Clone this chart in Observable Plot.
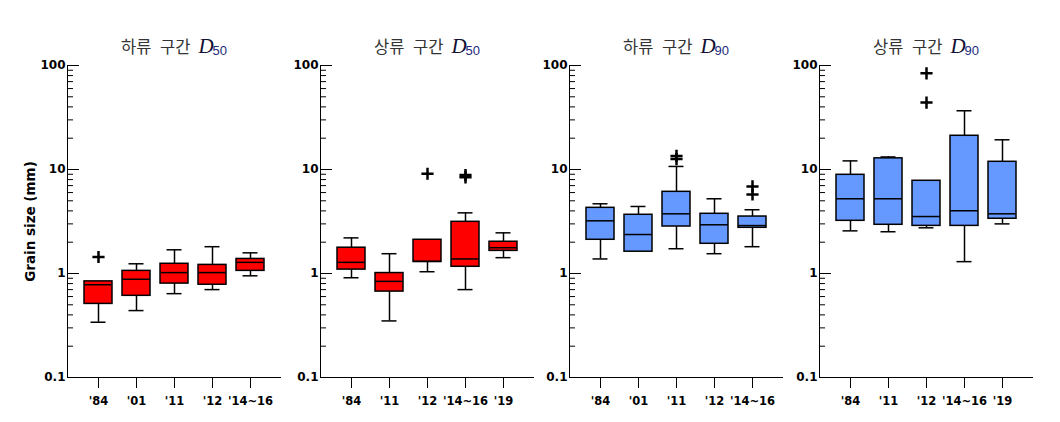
<!DOCTYPE html>
<html>
<head>
<meta charset="utf-8">
<script src="https://cdn.jsdelivr.net/npm/d3@7"></script>
<script src="https://cdn.jsdelivr.net/npm/@observablehq/plot@0.6"></script>
<style>
  html, body { margin: 0; padding: 0; background: #fff; }
  #root { position: relative; width: 1060px; height: 422px; font-family: "DejaVu Sans", sans-serif; }
  .panel { position: absolute; top: 0; height: 422px; }
  .title { position: absolute; top: 34px; height: 26px; text-align: center; white-space: nowrap; color: #333; }
  .title .ko { font-family: "Noto Sans CJK KR", sans-serif; font-size: 16.5px; font-weight: 400; word-spacing: 5px; }
  .title .D { font-family: "Liberation Serif", serif; font-style: italic; font-size: 21px; color: #111133; margin-left: 8px; }
  .title .sub { font-family: "Liberation Sans", sans-serif; font-size: 13px; color: #1c2a7a; position: relative; top: 2px; margin-left: -1px; }
  .panel > svg { position: absolute; top: 55px; overflow: visible; max-width: none !important; }
</style>
</head>
<body>
<div id="root"></div>
<script>
// ---- data ----
const catsDown = ["'84", "'01", "'11", "'12", "'14~16"];
const catsUp = ["'84", "'11", "'12", "'14~16", "'19"];

// 하류 구간 D50
const down50Min = [0.34, 0.44, 0.64, 0.70, 0.95];
const down50Q1  = [0.51, 0.61, 0.80, 0.78, 1.06];
const down50Med = [0.78, 0.88, 1.02, 1.02, 1.28];
const down50Q3  = [0.84, 1.06, 1.24, 1.21, 1.38];
const down50Max = [0.84, 1.24, 1.69, 1.81, 1.58];
const down50OutCat = ["'84"];
const down50OutVal = [1.44];

// 상류 구간 D50
const up50Min = [0.91, 0.35, 1.04, 0.70, 1.42];
const up50Q1  = [1.09, 0.67, 1.29, 1.16, 1.65];
const up50Med = [1.28, 0.84, 1.31, 1.38, 1.77];
const up50Q3  = [1.77, 1.01, 2.11, 3.14, 2.02];
const up50Max = [2.20, 1.55, 2.11, 3.83, 2.46];
const up50OutCat = ["'12", "'14~16", "'14~16"];
const up50OutVal = [9.1, 8.85, 8.4];

// 하류 구간 D90
const down90Min = [1.38, 1.62, 1.73, 1.55, 1.81];
const down90Q1  = [2.11, 1.62, 2.83, 1.93, 2.75];
const down90Med = [3.21, 2.37, 3.75, 2.94, 2.89];
const down90Q3  = [4.28, 3.67, 6.10, 3.75, 3.53];
const down90Max = [4.68, 4.41, 10.7, 5.23, 4.10];
const down90OutCat = ["'11", "'11", "'14~16", "'14~16"];
const down90OutVal = [13.5, 12.6, 6.87, 5.75];

// 상류 구간 D90
const up90Min = [2.57, 2.52, 2.75, 1.30, 3.00];
const up90Q1  = [3.21, 2.94, 2.87, 2.87, 3.36];
const up90Med = [5.23, 5.23, 3.53, 4.01, 3.75];
const up90Q3  = [8.89, 12.8, 7.79, 21.1, 11.86];
const up90Max = [12.1, 13.2, 7.79, 36.7, 19.3];
const up90OutCat = ["'12", "'12"];
const up90OutVal = [84, 44];

const majorTicks = [0.1, 1, 10, 100];
const minorTicks = [0.2,0.3,0.4,0.5,0.6,0.7,0.8,0.9, 2,3,4,5,6,7,8,9, 20,30,40,50,60,70,80,90];

const panels = [
  {title: "하류 구간", sub: "50", cats: catsDown, min: down50Min, q1: down50Q1, med: down50Med, q3: down50Q3, max: down50Max, oc: down50OutCat, ov: down50OutVal, fill: "#ff0000", axisX: 67, ylabel: true},
  {title: "상류 구간", sub: "50", cats: catsUp, min: up50Min, q1: up50Q1, med: up50Med, q3: up50Q3, max: up50Max, oc: up50OutCat, ov: up50OutVal, fill: "#ff0000", axisX: 320},
  {title: "하류 구간", sub: "90", cats: catsDown, min: down90Min, q1: down90Q1, med: down90Med, q3: down90Q3, max: down90Max, oc: down90OutCat, ov: down90OutVal, fill: "#6699ff", axisX: 569},
  {title: "상류 구간", sub: "90", cats: catsUp, min: up90Min, q1: up90Q1, med: up90Med, q3: up90Q3, max: up90Max, oc: up90OutCat, ov: up90OutVal, fill: "#6699ff", axisX: 819}
];

const root = document.getElementById("root");
const frameW = 214;

panels.forEach(p => {
  const rows = p.cats.map((c, i) => ({cat: c, min: p.min[i], q1: p.q1[i], med: p.med[i], q3: p.q3[i], max: p.max[i]}));
  const outs = p.oc.map((c, i) => ({cat: c, v: p.ov[i]}));
  const ml = p.ylabel ? 67 : 45;
  const mr = 4;
  const W = ml + frameW + mr;
  const marks = [
    Plot.ruleY([0.1]),
    Plot.frame({anchor: "left"}),
    Plot.axisY({ticks: minorTicks, tickSize: -6, tickFormat: () => "", label: null}),
    Plot.axisY({ticks: majorTicks, tickSize: -12, tickPadding: 14, tickFormat: d => String(d), label: null,
                fontSize: 12, fontWeight: "bold", fontFamily: "DejaVu Sans"}),
    Plot.axisX({tickSize: 11, tickPadding: 8, fontSize: 11.5, fontWeight: "bold", fontFamily: "DejaVu Sans", label: null}),
    Plot.ruleX(rows.filter(d => d.max > d.q3), {x: "cat", y1: "q3", y2: "max", stroke: "black", strokeWidth: 1.5}),
    Plot.ruleX(rows.filter(d => d.min < d.q1), {x: "cat", y1: "min", y2: "q1", stroke: "black", strokeWidth: 1.5}),
    Plot.tickY(rows.filter(d => d.max > d.q3), {x: "cat", y: "max", insetLeft: 6.5, insetRight: 6.5, stroke: "black", strokeWidth: 1.5}),
    Plot.tickY(rows.filter(d => d.min < d.q1), {x: "cat", y: "min", insetLeft: 6.5, insetRight: 6.5, stroke: "black", strokeWidth: 1.5}),
    Plot.barY(rows, {x: "cat", y1: "q1", y2: "q3", fill: p.fill, stroke: "black", strokeWidth: 1.5}),
    Plot.tickY(rows, {x: "cat", y: "med", stroke: "black", strokeWidth: 1.5}),
    Plot.dot(outs, {x: "cat", y: "v", symbol: "plus", r: 4, stroke: "black", strokeWidth: 2.5})
  ];
  if (p.ylabel) {
    marks.push(Plot.text(["Grain size (mm)"], {frameAnchor: "left", textAnchor: "middle", rotate: -90, dx: -37,
      fontSize: 13.5, fontWeight: "bold", fontFamily: "DejaVu Sans", fill: "black"}));
  }
  const svg = Plot.plot({
    width: W,
    height: 367,
    marginLeft: ml,
    marginRight: mr,
    marginTop: 10,
    marginBottom: 45,
    style: {background: "transparent", color: "black", overflow: "visible", maxWidth: "none"},
    x: {type: "band", domain: p.cats, paddingInner: 0.27, paddingOuter: 0.38, axis: null},
    y: {type: "log", domain: [0.1, 100], axis: null},
    marks
  });
  const panel = document.createElement("div");
  panel.className = "panel";
  panel.style.left = (p.axisX - ml) + "px";
  panel.style.width = W + "px";
  svg.style.left = "0px";
  const t = document.createElement("div");
  t.className = "title";
  t.style.left = ml + "px";
  t.style.width = frameW + "px";
  t.innerHTML = `<span class="ko">${p.title}</span><span class="D">D</span><span class="sub">${p.sub}</span>`;
  panel.appendChild(t);
  panel.appendChild(svg);
  root.appendChild(panel);
});
</script>
</body>
</html>
